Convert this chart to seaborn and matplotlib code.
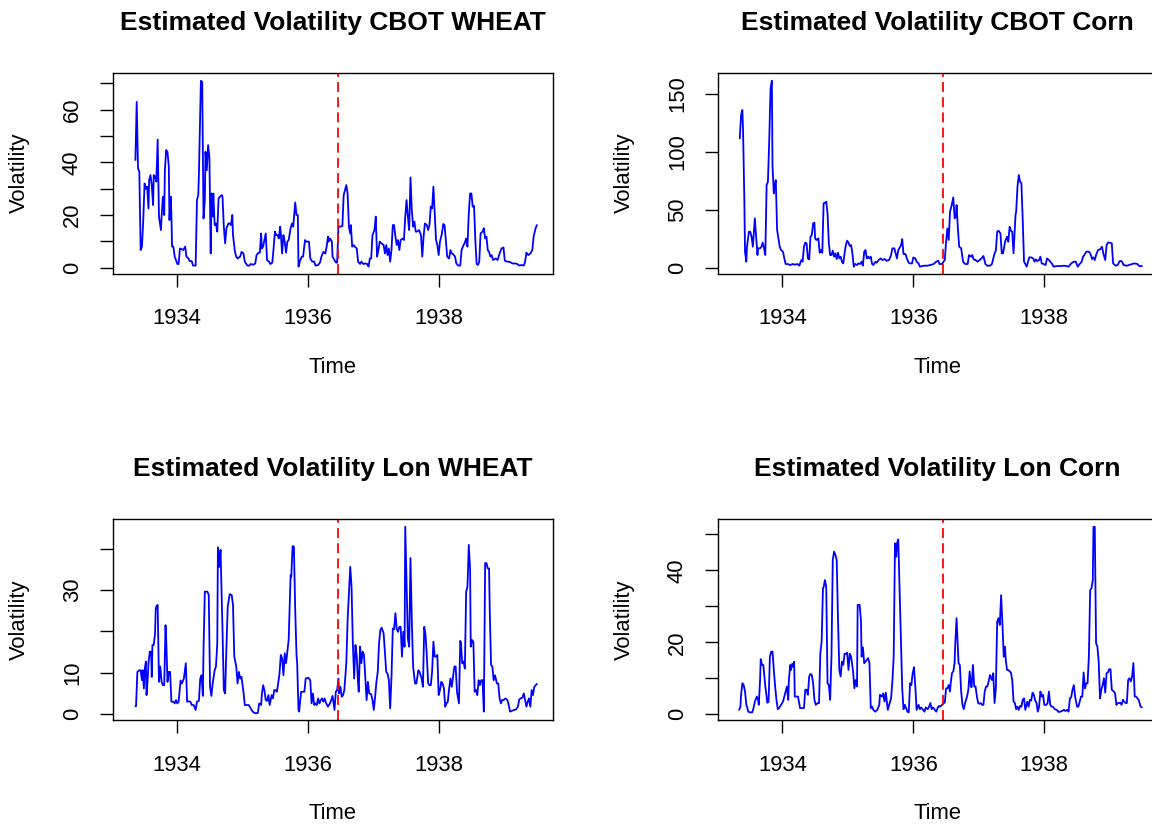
import matplotlib
matplotlib.use('Agg')
import matplotlib.pyplot as plt
import seaborn as sns

# weekly volatility estimates
t_cbot_wheat = [
    1933.36, 1933.38, 1933.40, 1933.42, 1933.44, 1933.46, 1933.48, 1933.50, 1933.52, 1933.54,
    1933.56, 1933.57, 1933.59, 1933.61, 1933.63, 1933.64, 1933.66, 1933.68, 1933.70, 1933.72,
    1933.75, 1933.76, 1933.78, 1933.80, 1933.81, 1933.83, 1933.85, 1933.87, 1933.88, 1933.90,
    1933.91, 1933.92, 1933.94, 1933.96, 1933.98, 1934.00, 1934.02, 1934.04, 1934.07, 1934.09,
    1934.12, 1934.14, 1934.17, 1934.19, 1934.22, 1934.24, 1934.28, 1934.30, 1934.32, 1934.33,
    1934.36, 1934.38, 1934.40, 1934.42, 1934.43, 1934.45, 1934.47, 1934.49, 1934.51, 1934.52,
    1934.54, 1934.55, 1934.57, 1934.59, 1934.61, 1934.63, 1934.65, 1934.68, 1934.69, 1934.71,
    1934.73, 1934.75, 1934.78, 1934.80, 1934.82, 1934.84, 1934.85, 1934.88, 1934.90, 1934.92,
    1934.96, 1934.98, 1935.01, 1935.03, 1935.07, 1935.10, 1935.12, 1935.16, 1935.19, 1935.21,
    1935.24, 1935.26, 1935.28, 1935.29, 1935.31, 1935.33, 1935.35, 1935.37, 1935.40, 1935.42,
    1935.45, 1935.47, 1935.49, 1935.51, 1935.53, 1935.55, 1935.57, 1935.58, 1935.60, 1935.62,
    1935.64, 1935.66, 1935.68, 1935.70, 1935.73, 1935.75, 1935.77, 1935.80, 1935.82, 1935.84,
    1935.85, 1935.87, 1935.90, 1935.92, 1935.95, 1935.97, 1936.01, 1936.03, 1936.06, 1936.09,
    1936.11, 1936.15, 1936.18, 1936.20, 1936.23, 1936.26, 1936.28, 1936.30, 1936.31, 1936.33,
    1936.36, 1936.37, 1936.40, 1936.42, 1936.44, 1936.46, 1936.48, 1936.52, 1936.54, 1936.58,
    1936.60, 1936.62, 1936.64, 1936.65, 1936.67, 1936.69, 1936.71, 1936.74, 1936.76, 1936.79,
    1936.81, 1936.84, 1936.87, 1936.90, 1936.92, 1936.94, 1936.96, 1936.98, 1937.01, 1937.03,
    1937.05, 1937.07, 1937.09, 1937.12, 1937.15, 1937.17, 1937.19, 1937.21, 1937.23, 1937.25,
    1937.27, 1937.29, 1937.31, 1937.33, 1937.35, 1937.37, 1937.39, 1937.41, 1937.44, 1937.46,
    1937.48, 1937.50, 1937.52, 1937.54, 1937.56, 1937.58, 1937.60, 1937.62, 1937.64, 1937.66,
    1937.69, 1937.72, 1937.74, 1937.76, 1937.78, 1937.81, 1937.83, 1937.85, 1937.87, 1937.89,
    1937.91, 1937.93, 1937.95, 1937.97, 1937.99, 1938.01, 1938.04, 1938.06, 1938.08, 1938.10,
    1938.12, 1938.15, 1938.17, 1938.19, 1938.21, 1938.24, 1938.26, 1938.29, 1938.32, 1938.34,
    1938.36, 1938.39, 1938.41, 1938.43, 1938.45, 1938.47, 1938.49, 1938.51, 1938.53, 1938.55,
    1938.57, 1938.59, 1938.61, 1938.63, 1938.66, 1938.68, 1938.70, 1938.72, 1938.74, 1938.76,
    1938.78, 1938.80, 1938.82, 1938.86, 1938.89, 1938.92, 1938.95, 1938.98, 1939.00, 1939.03,
    1939.06, 1939.09, 1939.12, 1939.16, 1939.19, 1939.22, 1939.26, 1939.29, 1939.31, 1939.33,
    1939.36, 1939.39, 1939.42, 1939.44, 1939.47, 1939.49]
v_cbot_wheat = [
    40.9, 63.0, 37.7, 36.5, 6.7, 8.0, 18.0, 32.0, 30.0, 30.8,
    22.5, 33.3, 35.2, 31.4, 23.8, 35.2, 34.6, 32.7, 48.7, 19.4,
    14.3, 19.4, 27.0, 20.0, 37.0, 44.7, 44.0, 38.4, 18.1, 27.0,
    19.4, 8.0, 8.0, 4.2, 2.9, 1.4, 1.4, 7.3, 7.0, 6.7,
    8.0, 4.2, 3.5, 2.5, 2.5, 0.8, 0.8, 25.7, 27.6, 35.8,
    71.0, 70.6, 18.7, 25.7, 44.0, 37.0, 46.6, 42.0, 5.4, 28.2,
    19.4, 28.2, 16.2, 16.8, 13.7, 26.3, 27.0, 27.6, 27.0, 15.6,
    9.2, 15.0, 16.8, 16.8, 16.2, 20.0, 12.4, 6.0, 4.2, 3.5,
    4.2, 6.0, 5.4, 2.3, 0.8, 0.8, 1.4, 1.1, 1.6, 4.8,
    5.7, 5.7, 13.0, 7.3, 8.0, 10.5, 13.0, 2.9, 2.3, 1.4,
    1.9, 7.3, 13.7, 12.4, 12.4, 11.1, 15.6, 13.0, 5.4, 12.4,
    9.9, 5.7, 9.9, 10.5, 15.0, 16.8, 15.6, 24.8, 20.0, 20.0,
    0.4, 2.3, 4.2, 4.2, 10.5, 9.9, 9.9, 3.5, 2.3, 2.3,
    0.8, 1.0, 2.0, 4.2, 6.0, 5.4, 8.0, 11.8, 9.9, 11.1,
    9.9, 4.2, 2.9, 2.0, 1.9, 15.6, 15.6, 15.8, 27.6, 31.4,
    28.2, 15.6, 13.0, 16.2, 8.0, 8.6, 8.0, 7.3, 2.3, 1.4,
    2.3, 1.4, 1.6, 1.4, 0.4, 3.5, 3.5, 12.4, 14.3, 19.4,
    4.2, 6.7, 9.9, 9.2, 8.6, 5.4, 8.6, 4.8, 7.3, 2.3,
    6.7, 16.2, 16.2, 11.8, 8.6, 10.5, 6.7, 10.5, 11.1, 10.5,
    19.4, 25.7, 19.4, 14.3, 34.3, 21.9, 15.6, 17.5, 13.7, 13.7,
    14.3, 12.4, 4.2, 11.8, 16.8, 16.2, 14.3, 16.2, 23.2, 22.5,
    30.8, 20.6, 10.5, 8.6, 4.8, 9.9, 13.0, 16.6, 16.2, 10.5,
    4.2, 3.5, 6.7, 5.4, 5.2, 4.2, 1.6, 0.8, 0.8, 6.7,
    8.0, 9.5, 11.1, 8.0, 20.6, 28.2, 28.2, 23.2, 23.5, 10.5,
    1.4, 1.0, 2.3, 13.0, 13.7, 15.0, 11.1, 11.8, 6.7, 6.0,
    4.2, 4.8, 2.9, 3.5, 2.9, 5.4, 7.3, 7.7, 2.7, 2.3,
    2.3, 2.0, 1.6, 1.6, 1.4, 0.8, 1.0, 0.8, 2.3, 5.7,
    4.8, 5.4, 6.7, 11.8, 15.0, 16.2]

t_cbot_corn = [
    1933.35, 1933.37, 1933.39, 1933.40, 1933.42, 1933.43, 1933.45, 1933.46, 1933.49, 1933.51,
    1933.53, 1933.55, 1933.56, 1933.58, 1933.60, 1933.62, 1933.63, 1933.66, 1933.68, 1933.70,
    1933.72, 1933.74, 1933.76, 1933.78, 1933.80, 1933.82, 1933.84, 1933.85, 1933.87, 1933.88,
    1933.90, 1933.92, 1933.94, 1933.96, 1933.98, 1934.01, 1934.03, 1934.05, 1934.08, 1934.12,
    1934.16, 1934.19, 1934.23, 1934.26, 1934.29, 1934.31, 1934.33, 1934.35, 1934.37, 1934.39,
    1934.41, 1934.43, 1934.45, 1934.47, 1934.49, 1934.50, 1934.52, 1934.55, 1934.57, 1934.59,
    1934.61, 1934.63, 1934.65, 1934.67, 1934.69, 1934.71, 1934.73, 1934.75, 1934.77, 1934.79,
    1934.81, 1934.83, 1934.85, 1934.87, 1934.89, 1934.91, 1934.93, 1934.95, 1934.97, 1934.99,
    1935.01, 1935.03, 1935.05, 1935.07, 1935.09, 1935.11, 1935.14, 1935.16, 1935.19, 1935.21,
    1935.23, 1935.25, 1935.27, 1935.29, 1935.31, 1935.33, 1935.35, 1935.37, 1935.39, 1935.42,
    1935.44, 1935.47, 1935.50, 1935.53, 1935.56, 1935.59, 1935.63, 1935.66, 1935.68, 1935.71,
    1935.73, 1935.75, 1935.77, 1935.80, 1935.82, 1935.83, 1935.85, 1935.88, 1935.90, 1935.93,
    1935.95, 1935.98, 1936.00, 1936.03, 1936.05, 1936.08, 1936.10, 1936.16, 1936.21, 1936.26,
    1936.31, 1936.35, 1936.38, 1936.40, 1936.44, 1936.46, 1936.48, 1936.50, 1936.52, 1936.54,
    1936.56, 1936.58, 1936.61, 1936.63, 1936.65, 1936.66, 1936.68, 1936.70, 1936.73, 1936.76,
    1936.79, 1936.83, 1936.85, 1936.88, 1936.90, 1936.92, 1936.95, 1936.98, 1937.01, 1937.04,
    1937.07, 1937.10, 1937.13, 1937.17, 1937.20, 1937.24, 1937.26, 1937.28, 1937.30, 1937.33,
    1937.35, 1937.37, 1937.40, 1937.43, 1937.45, 1937.47, 1937.49, 1937.51, 1937.53, 1937.56,
    1937.57, 1937.59, 1937.61, 1937.63, 1937.65, 1937.67, 1937.69, 1937.71, 1937.73, 1937.77,
    1937.80, 1937.83, 1937.85, 1937.87, 1937.89, 1937.92, 1937.94, 1937.96, 1937.99, 1938.02,
    1938.04, 1938.07, 1938.09, 1938.12, 1938.14, 1938.19, 1938.24, 1938.30, 1938.34, 1938.37,
    1938.41, 1938.45, 1938.48, 1938.51, 1938.54, 1938.57, 1938.59, 1938.61, 1938.64, 1938.68,
    1938.70, 1938.73, 1938.75, 1938.77, 1938.79, 1938.82, 1938.85, 1938.88, 1938.90, 1938.93,
    1938.95, 1938.97, 1939.00, 1939.03, 1939.05, 1939.09, 1939.12, 1939.15, 1939.18, 1939.21,
    1939.26, 1939.31, 1939.37, 1939.42, 1939.45, 1939.49]
v_cbot_corn = [
    111.5, 131.6, 135.9, 118.7, 58.3, 13.8, 5.2, 18.1, 31.0, 31.0,
    26.7, 18.1, 26.7, 42.5, 26.7, 10.9, 16.7, 16.7, 18.1, 21.6,
    16.7, 10.9, 71.3, 74.1, 110.0, 154.6, 161.2, 87.1, 64.1, 69.8,
    75.6, 32.5, 25.3, 18.1, 15.2, 13.8, 8.0, 3.2, 3.2, 2.3,
    3.2, 2.6, 3.2, 1.7, 6.6, 5.2, 18.1, 21.6, 21.0, 8.0,
    7.2, 26.7, 28.2, 38.2, 38.8, 25.3, 23.9, 25.3, 12.9, 15.2,
    12.9, 55.5, 56.0, 56.9, 46.8, 21.0, 10.9, 10.9, 14.7, 9.5,
    12.4, 7.5, 12.9, 8.0, 9.5, 5.2, 3.7, 12.4, 19.5, 23.3,
    21.6, 18.7, 19.5, 12.4, 0.9, 3.2, 2.3, 3.7, 3.2, 5.2,
    1.7, 13.8, 15.2, 8.0, 9.5, 8.0, 9.5, 3.2, 2.3, 5.2,
    4.3, 6.6, 8.0, 6.6, 7.5, 6.0, 6.6, 10.9, 16.7, 16.7,
    12.4, 8.0, 15.2, 18.1, 21.0, 24.7, 11.8, 11.8, 8.0, 4.3,
    3.7, 3.7, 8.9, 8.0, 5.2, 3.7, 0.9, 1.7, 1.7, 2.3,
    3.2, 5.2, 6.0, 3.2, 3.2, 5.2, 6.6, 22.4, 33.9, 23.9,
    48.3, 52.6, 60.6, 42.5, 44.0, 54.0, 33.9, 18.1, 16.7, 5.2,
    3.2, 3.2, 10.9, 9.5, 10.9, 7.2, 6.6, 5.2, 6.6, 8.0,
    10.1, 3.2, 1.7, 1.7, 3.2, 12.4, 14.7, 31.0, 31.9, 29.6,
    12.4, 12.4, 22.4, 26.7, 22.4, 35.3, 31.9, 31.0, 12.4, 45.4,
    48.3, 69.8, 79.9, 74.1, 72.7, 41.1, 5.2, 3.2, 0.9, 8.9,
    8.9, 8.0, 5.2, 7.2, 5.7, 6.6, 9.5, 3.7, 3.2, 2.3,
    8.0, 6.6, 5.2, 3.2, 0.9, 1.4, 1.4, 1.7, 1.4, 0.9,
    3.7, 5.2, 5.2, 0.9, 3.2, 5.2, 9.5, 10.9, 13.8, 13.8,
    12.4, 7.5, 8.9, 6.6, 10.9, 15.2, 15.8, 18.1, 12.4, 6.6,
    19.5, 21.6, 21.6, 21.0, 3.7, 1.7, 2.3, 5.7, 5.7, 2.3,
    1.7, 2.6, 3.7, 3.2, 1.4, 1.4]

t_lon_wheat = [
    1933.36, 1933.37, 1933.39, 1933.42, 1933.44, 1933.46, 1933.47, 1933.49, 1933.50, 1933.52,
    1933.53, 1933.55, 1933.56, 1933.58, 1933.60, 1933.61, 1933.62, 1933.64, 1933.66, 1933.67,
    1933.68, 1933.70, 1933.72, 1933.74, 1933.76, 1933.78, 1933.80, 1933.82, 1933.83, 1933.85,
    1933.87, 1933.89, 1933.91, 1933.94, 1933.96, 1933.98, 1934.00, 1934.02, 1934.05, 1934.07,
    1934.10, 1934.12, 1934.13, 1934.15, 1934.17, 1934.20, 1934.22, 1934.25, 1934.28, 1934.30,
    1934.33, 1934.35, 1934.37, 1934.39, 1934.40, 1934.42, 1934.46, 1934.48, 1934.50, 1934.52,
    1934.54, 1934.57, 1934.59, 1934.61, 1934.62, 1934.64, 1934.66, 1934.69, 1934.71, 1934.73,
    1934.75, 1934.77, 1934.80, 1934.83, 1934.85, 1934.87, 1934.90, 1934.92, 1934.94, 1934.96,
    1934.98, 1935.01, 1935.03, 1935.06, 1935.09, 1935.12, 1935.15, 1935.19, 1935.23, 1935.25,
    1935.28, 1935.29, 1935.31, 1935.33, 1935.35, 1935.37, 1935.39, 1935.41, 1935.44, 1935.46,
    1935.48, 1935.50, 1935.52, 1935.54, 1935.56, 1935.58, 1935.60, 1935.62, 1935.64, 1935.66,
    1935.68, 1935.70, 1935.73, 1935.74, 1935.76, 1935.78, 1935.80, 1935.82, 1935.83, 1935.85,
    1935.86, 1935.89, 1935.91, 1935.94, 1935.96, 1936.00, 1936.03, 1936.05, 1936.07, 1936.09,
    1936.11, 1936.13, 1936.15, 1936.17, 1936.19, 1936.21, 1936.23, 1936.25, 1936.27, 1936.30,
    1936.33, 1936.35, 1936.37, 1936.40, 1936.42, 1936.44, 1936.46, 1936.47, 1936.49, 1936.51,
    1936.53, 1936.55, 1936.58, 1936.60, 1936.62, 1936.64, 1936.66, 1936.68, 1936.70, 1936.72,
    1936.74, 1936.76, 1936.77, 1936.79, 1936.81, 1936.83, 1936.85, 1936.87, 1936.89, 1936.91,
    1936.93, 1936.96, 1936.98, 1937.00, 1937.02, 1937.04, 1937.06, 1937.08, 1937.10, 1937.12,
    1937.15, 1937.17, 1937.19, 1937.21, 1937.23, 1937.25, 1937.27, 1937.29, 1937.31, 1937.33,
    1937.35, 1937.37, 1937.39, 1937.41, 1937.43, 1937.45, 1937.47, 1937.48, 1937.50, 1937.52,
    1937.54, 1937.56, 1937.58, 1937.60, 1937.63, 1937.65, 1937.68, 1937.70, 1937.73, 1937.75,
    1937.77, 1937.79, 1937.81, 1937.83, 1937.85, 1937.87, 1937.89, 1937.91, 1937.93, 1937.95,
    1937.97, 1937.99, 1938.01, 1938.03, 1938.05, 1938.07, 1938.09, 1938.11, 1938.13, 1938.15,
    1938.17, 1938.19, 1938.21, 1938.23, 1938.25, 1938.27, 1938.30, 1938.32, 1938.33, 1938.35,
    1938.37, 1938.39, 1938.41, 1938.43, 1938.45, 1938.47, 1938.48, 1938.50, 1938.52, 1938.54,
    1938.56, 1938.58, 1938.60, 1938.62, 1938.64, 1938.66, 1938.68, 1938.70, 1938.72, 1938.74,
    1938.76, 1938.77, 1938.79, 1938.81, 1938.83, 1938.85, 1938.88, 1938.90, 1938.92, 1938.94,
    1938.96, 1938.98, 1939.01, 1939.04, 1939.06, 1939.08, 1939.11, 1939.14, 1939.17, 1939.20,
    1939.22, 1939.24, 1939.27, 1939.29, 1939.31, 1939.33, 1939.35, 1939.37, 1939.39, 1939.41,
    1939.43, 1939.45, 1939.49]
v_lon_wheat = [
    1.9, 1.9, 10.2, 10.6, 10.6, 8.2, 10.6, 6.2, 10.6, 12.7,
    4.6, 9.0, 12.3, 15.1, 15.1, 9.0, 16.7, 16.7, 19.5, 25.2,
    26.1, 26.4, 7.8, 11.5, 7.8, 7.0, 7.0, 21.5, 18.3, 7.8,
    10.2, 10.2, 3.0, 3.0, 2.6, 3.4, 2.6, 3.0, 8.1, 7.4,
    8.6, 11.0, 12.3, 3.0, 3.1, 3.0, 2.2, 2.2, 1.0, 3.0,
    3.2, 8.6, 9.4, 4.4, 15.5, 29.6, 29.6, 28.8, 6.6, 4.4,
    7.4, 10.6, 11.5, 17.1, 40.3, 35.6, 39.7, 20.3, 5.8, 5.0,
    16.3, 26.0, 29.0, 28.8, 26.4, 13.9, 11.5, 7.4, 10.2, 8.6,
    9.0, 5.4, 2.2, 2.2, 2.2, 1.4, 0.6, 0.2, 0.3, 2.6,
    2.2, 4.6, 7.0, 5.8, 3.4, 3.2, 4.6, 2.2, 4.6, 3.8,
    5.8, 5.8, 5.4, 7.4, 9.8, 14.3, 13.5, 9.4, 14.7, 12.3,
    15.1, 17.9, 33.6, 33.2, 40.6, 40.5, 25.2, 14.3, 12.3, 1.0,
    0.6, 5.4, 5.4, 5.4, 8.6, 8.8, 8.2, 2.6, 5.0, 2.2,
    2.6, 2.2, 3.8, 2.6, 3.4, 3.8, 3.0, 3.8, 2.7, 1.8,
    2.6, 3.4, 4.4, 1.0, 5.4, 5.8, 8.6, 5.0, 6.6, 4.2,
    4.6, 5.8, 12.3, 22.7, 29.2, 35.6, 30.8, 17.1, 8.6, 16.7,
    13.9, 7.4, 5.4, 16.3, 12.3, 15.1, 14.3, 9.0, 3.4, 7.8,
    5.0, 4.8, 3.4, 1.0, 4.2, 7.8, 10.2, 17.1, 20.3, 20.9,
    19.5, 14.7, 10.2, 9.8, 8.2, 1.4, 9.0, 20.7, 20.5, 24.4,
    20.5, 19.9, 21.1, 21.1, 13.9, 19.9, 16.3, 45.3, 31.6, 18.3,
    16.3, 37.7, 22.7, 11.5, 7.4, 7.4, 10.6, 10.2, 8.6, 6.6,
    21.1, 19.1, 13.9, 7.4, 7.0, 7.0, 10.2, 17.5, 13.9, 13.9,
    14.3, 4.6, 5.8, 7.8, 7.4, 6.2, 1.8, 2.6, 3.0, 6.2,
    8.6, 6.6, 9.0, 11.5, 11.5, 5.4, 2.6, 17.7, 17.1, 12.3,
    12.7, 11.0, 29.6, 30.8, 40.9, 35.2, 16.3, 17.9, 17.5, 5.4,
    5.8, 4.6, 8.2, 7.0, 8.2, 8.2, 0.6, 36.5, 36.5, 35.2,
    35.2, 25.2, 11.9, 11.5, 8.2, 9.4, 7.4, 7.4, 3.8, 2.6,
    3.4, 3.4, 3.8, 3.4, 2.2, 0.6, 0.8, 1.0, 1.1, 1.8,
    3.5, 3.8, 4.0, 5.0, 3.4, 1.8, 3.0, 3.8, 1.8, 5.8,
    4.6, 6.6, 7.3]

t_lon_corn = [
    1933.34, 1933.36, 1933.37, 1933.39, 1933.41, 1933.43, 1933.45, 1933.46, 1933.48, 1933.51,
    1933.54, 1933.56, 1933.58, 1933.61, 1933.63, 1933.64, 1933.66, 1933.67, 1933.69, 1933.71,
    1933.74, 1933.76, 1933.77, 1933.79, 1933.81, 1933.83, 1933.85, 1933.87, 1933.89, 1933.91,
    1933.93, 1933.95, 1933.98, 1934.01, 1934.03, 1934.05, 1934.07, 1934.09, 1934.10, 1934.12,
    1934.13, 1934.15, 1934.16, 1934.18, 1934.19, 1934.22, 1934.24, 1934.27, 1934.30, 1934.33,
    1934.35, 1934.37, 1934.39, 1934.41, 1934.43, 1934.45, 1934.47, 1934.49, 1934.51, 1934.54,
    1934.56, 1934.58, 1934.60, 1934.62, 1934.63, 1934.65, 1934.67, 1934.69, 1934.71, 1934.73,
    1934.75, 1934.77, 1934.79, 1934.81, 1934.83, 1934.85, 1934.87, 1934.89, 1934.91, 1934.93,
    1934.95, 1934.97, 1934.99, 1935.01, 1935.03, 1935.05, 1935.08, 1935.10, 1935.12, 1935.14,
    1935.15, 1935.18, 1935.20, 1935.21, 1935.23, 1935.25, 1935.27, 1935.29, 1935.31, 1935.33,
    1935.35, 1935.37, 1935.39, 1935.42, 1935.45, 1935.48, 1935.49, 1935.52, 1935.54, 1935.56,
    1935.58, 1935.61, 1935.64, 1935.66, 1935.68, 1935.70, 1935.72, 1935.74, 1935.75, 1935.77,
    1935.79, 1935.81, 1935.83, 1935.85, 1935.87, 1935.89, 1935.91, 1935.93, 1935.95, 1935.97,
    1935.99, 1936.01, 1936.03, 1936.05, 1936.08, 1936.10, 1936.12, 1936.15, 1936.17, 1936.19,
    1936.22, 1936.24, 1936.26, 1936.28, 1936.30, 1936.33, 1936.35, 1936.37, 1936.39, 1936.41,
    1936.44, 1936.46, 1936.48, 1936.50, 1936.52, 1936.54, 1936.56, 1936.57, 1936.59, 1936.61,
    1936.63, 1936.64, 1936.66, 1936.69, 1936.71, 1936.73, 1936.75, 1936.77, 1936.79, 1936.82,
    1936.84, 1936.86, 1936.88, 1936.89, 1936.91, 1936.93, 1936.95, 1936.97, 1936.99, 1937.01,
    1937.03, 1937.05, 1937.07, 1937.09, 1937.11, 1937.13, 1937.15, 1937.17, 1937.20, 1937.22,
    1937.24, 1937.26, 1937.28, 1937.30, 1937.32, 1937.34, 1937.36, 1937.38, 1937.40, 1937.41,
    1937.43, 1937.45, 1937.47, 1937.49, 1937.51, 1937.53, 1937.55, 1937.57, 1937.59, 1937.61,
    1937.63, 1937.65, 1937.67, 1937.69, 1937.71, 1937.74, 1937.76, 1937.78, 1937.80, 1937.82,
    1937.84, 1937.86, 1937.88, 1937.90, 1937.92, 1937.94, 1937.96, 1937.98, 1938.00, 1938.03,
    1938.05, 1938.07, 1938.09, 1938.11, 1938.13, 1938.16, 1938.19, 1938.22, 1938.24, 1938.27,
    1938.30, 1938.32, 1938.35, 1938.37, 1938.39, 1938.41, 1938.43, 1938.45, 1938.47, 1938.50,
    1938.52, 1938.54, 1938.56, 1938.58, 1938.60, 1938.62, 1938.64, 1938.66, 1938.68, 1938.70,
    1938.72, 1938.74, 1938.75, 1938.77, 1938.79, 1938.81, 1938.83, 1938.85, 1938.87, 1938.89,
    1938.91, 1938.93, 1938.95, 1938.97, 1938.99, 1939.01, 1939.03, 1939.06, 1939.08, 1939.10,
    1939.12, 1939.14, 1939.16, 1939.18, 1939.20, 1939.22, 1939.24, 1939.26, 1939.28, 1939.30,
    1939.32, 1939.34, 1939.36, 1939.38, 1939.40, 1939.44, 1939.47, 1939.49]
v_lon_corn = [
    1.2, 2.1, 5.4, 8.6, 8.1, 6.3, 2.6, 2.1, 0.7, 0.5,
    0.5, 1.7, 3.5, 4.9, 4.0, 2.6, 9.5, 15.3, 13.7, 13.7,
    7.7, 4.9, 3.2, 3.5, 16.0, 17.4, 17.4, 12.3, 7.7, 4.0,
    1.4, 1.7, 2.6, 3.5, 4.9, 6.3, 7.7, 4.0, 9.5, 13.7,
    12.3, 14.0, 13.2, 14.6, 4.9, 4.9, 4.9, 1.7, 1.7, 1.7,
    6.8, 6.8, 5.4, 10.5, 11.2, 10.9, 8.6, 4.0, 2.6, 3.1,
    3.1, 16.9, 20.2, 35.0, 35.3, 37.3, 35.5, 8.6, 8.1, 4.0,
    16.0, 42.9, 45.2, 44.3, 42.9, 26.2, 12.3, 10.5, 14.6, 13.7,
    16.8, 16.8, 17.1, 12.3, 16.8, 16.0, 11.9, 7.2, 9.5, 7.7,
    30.4, 30.4, 26.2, 16.0, 18.6, 14.2, 14.6, 15.1, 15.6, 14.2,
    1.7, 2.1, 1.2, 0.7, 1.2, 2.6, 5.4, 4.9, 5.8, 3.5,
    6.0, 1.2, 3.2, 4.4, 9.1, 16.0, 47.5, 43.8, 47.5, 48.6,
    34.5, 19.7, 7.2, 1.4, 2.6, 1.7, 0.7, 0.5, 8.6, 8.1,
    11.4, 13.1, 7.7, 1.2, 2.6, 1.4, 1.9, 1.2, 0.7, 1.9,
    1.4, 2.1, 3.1, 1.4, 1.9, 1.2, 0.7, 1.7, 2.3, 2.1,
    2.6, 3.1, 3.2, 7.2, 7.2, 8.1, 6.3, 8.6, 11.4, 11.9,
    14.2, 19.7, 26.7, 14.2, 13.7, 6.3, 2.6, 1.4, 3.1, 4.9,
    6.8, 11.9, 7.7, 7.5, 13.7, 7.7, 7.7, 4.9, 3.1, 2.9,
    3.1, 2.6, 2.6, 6.3, 7.7, 7.7, 9.1, 10.9, 9.5, 11.4,
    3.1, 7.2, 25.7, 26.7, 24.8, 33.1, 25.3, 16.0, 18.8, 15.3,
    12.3, 12.3, 11.9, 11.6, 9.5, 3.5, 3.1, 1.4, 2.1, 1.2,
    2.3, 2.1, 4.0, 4.4, 1.2, 3.5, 2.1, 4.0, 3.8, 6.0,
    5.4, 3.8, 3.2, 0.7, 2.1, 6.3, 4.9, 5.4, 2.6, 2.6,
    3.1, 6.3, 2.6, 2.1, 2.1, 1.4, 1.2, 0.6, 0.7, 0.9,
    1.2, 0.9, 1.2, 0.7, 4.4, 4.7, 6.8, 8.1, 4.9, 2.1,
    2.1, 3.5, 4.9, 4.9, 11.6, 7.2, 8.6, 8.6, 16.0, 34.5,
    35.0, 37.3, 52.1, 52.1, 19.7, 18.8, 14.6, 4.4, 6.8, 8.1,
    10.0, 6.0, 11.4, 11.6, 12.5, 12.5, 6.8, 6.3, 5.8, 2.6,
    3.1, 3.1, 3.2, 2.6, 4.0, 3.5, 3.1, 3.1, 9.5, 10.0,
    9.1, 10.5, 14.2, 4.9, 4.9, 4.0, 2.1, 1.9]

titles = ['Estimated Volatility CBOT WHEAT', 'Estimated Volatility CBOT Corn',
          'Estimated Volatility Lon WHEAT', 'Estimated Volatility Lon Corn']
break_date = 1936.455
x_ticks = [1934, 1936, 1938]

sns.set_style('white')
plt.rcParams['font.family'] = ['Liberation Sans', 'DejaVu Sans']
plt.rcParams['text.color'] = 'black'
plt.rcParams['axes.labelcolor'] = 'black'

fig = plt.figure(figsize=(11.52, 8.27), dpi=100)

panels = [
    (t_cbot_wheat, v_cbot_wheat, [0.0978, 0.6690], (-2.3, 74.1),
     list(range(0, 80, 10)), ['0', '', '20', '', '40', '', '60', '']),
    (t_cbot_corn, v_cbot_corn, [0.6230, 0.6690], (-5.2, 168.1),
     [0, 50, 100, 150], ['0', '50', '100', '150']),
    (t_lon_wheat, v_lon_wheat, [0.0978, 0.1290], (-1.5, 47.1),
     list(range(0, 50, 10)), ['0', '10', '', '30', '']),
    (t_lon_corn, v_lon_corn, [0.6230, 0.1290], (-1.7, 54.2),
     list(range(0, 60, 10)), ['0', '', '20', '', '40', '']),
]

for title, (t, v, pos, ylim, yt, ytl) in zip(titles, panels):
    ax = fig.add_axes([pos[0], pos[1], 0.3819, 0.2431])
    sns.lineplot(x=t, y=v, ax=ax, color='blue', linewidth=1.3,
                 estimator=None, sort=False)
    ax.axvline(break_date, color='red', linewidth=1.3, linestyle=(0, (5.5, 2.9)))
    ax.set_xlim(1933.013, 1939.73)
    ax.set_ylim(*ylim)
    ax.set_xticks(x_ticks)
    ax.set_xticklabels([str(x) for x in x_ticks])
    ax.set_yticks(yt)
    ax.set_yticklabels(ytl, rotation=90, va='center')
    ax.tick_params(direction='out', length=9.4, width=1.0,
                   labelsize=15.8, colors='black', left=True, bottom=True)
    ax.tick_params(axis='x', pad=15.5)
    ax.tick_params(axis='y', pad=12)
    for s in ax.spines.values():
        s.set_visible(True)
        s.set_color('black')
        s.set_linewidth(1.0)
    ax.set_title(title, fontsize=19, fontweight='bold', pad=31, color='black')
    ax.set_xlabel('Time', fontsize=15.8, va='center')
    ax.xaxis.set_label_coords(0.5, -0.465)
    ax.set_ylabel('Volatility', fontsize=15.8, va='center')
    ax.yaxis.set_label_coords(-0.211, 0.5)

fig.savefig('out.png', dpi=100)
